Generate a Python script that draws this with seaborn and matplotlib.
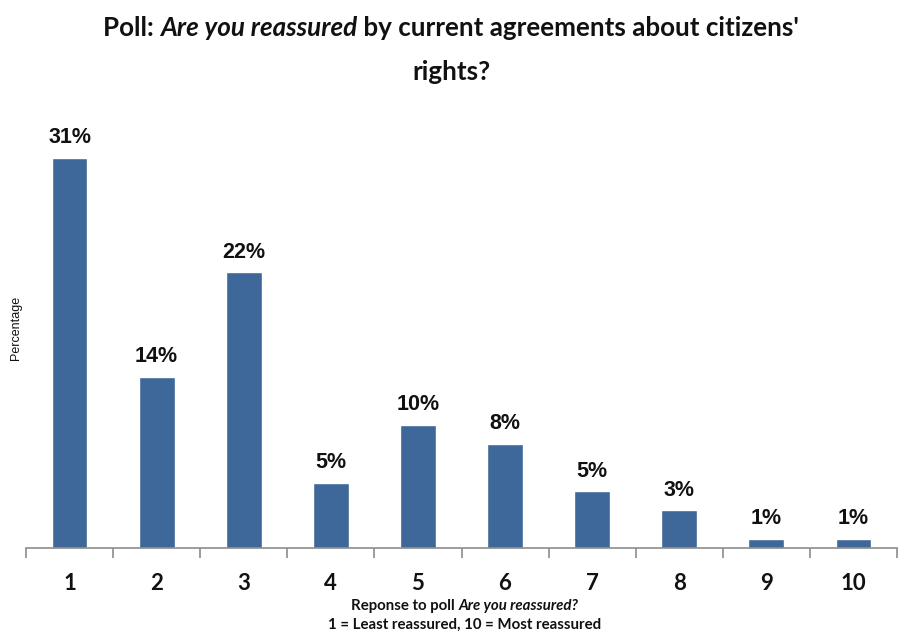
import matplotlib
matplotlib.use("Agg")
import matplotlib.pyplot as plt
import seaborn as sns
import pandas as pd

# poll answers, heights, labels as printed
responses = ["1", "2", "3", "4", "5", "6", "7", "8", "9", "10"]
percent = [31.0, 13.6, 21.9, 5.2, 9.8, 8.3, 4.5, 3.0, 0.7, 0.7]
labels = ["31%", "14%", "22%", "5%", "10%", "8%", "5%", "3%", "1%", "1%"]

df = pd.DataFrame({"Response": responses, "Percentage": percent})

sns.set_style("white")
plt.rcParams['font.family'] = ['Liberation Sans', 'DejaVu Sans']

W, H = 898, 633
fig = plt.figure(figsize=(W / 100, H / 100), dpi=100)
# axes in pixel terms: left 26, right 897, baseline 548, top 120
ax = fig.add_axes([26 / W, (H - 548) / H, (897 - 26) / W, (548 - 120) / H])

sns.barplot(x="Response", y="Percentage", data=df, color="#3D6899",
            width=0.41, saturation=1, ax=ax)
ax.set_xlim(-0.5, 9.5)
ax.set_ylim(0, 31.0 * 428 / 390)

ax.bar_label(ax.containers[0], labels=labels, padding=7,
             fontsize=15.5, fontweight="bold", color="#111111")

for s in ["left", "top", "right"]:
    ax.spines[s].set_visible(False)
ax.spines["bottom"].set_color("#8C8C8C")
ax.spines["bottom"].set_linewidth(1.2)

ax.set_yticks([])
ax.set_xticks(range(10))
ax.set_xticklabels(responses, family="Lato", fontweight="bold", fontsize=16, color="#111111")
ax.tick_params(axis="x", which="major", length=0, pad=18)
ax.set_xticks([i - 0.5 for i in range(11)], minor=True)
ax.tick_params(axis="x", which="minor", bottom=True, length=7, width=1.2,
               color="#8C8C8C", direction="out")
ax.set_xlabel("")
ax.set_ylabel("")

fig.text(16 / W, 1 - 328 / H, "Percentage", rotation=90, ha="center", va="center",
         fontsize=9, color="#111111")

renderer = fig.canvas.get_renderer()


def pieces(x_px, y_px, parts, size):
    # draw a line of text made of several styled pieces, centred on x_px
    objs = []
    for txt, style in parts:
        t = fig.text(0, 1 - y_px / H, txt, family="Lato", fontweight="bold",
                     style=style, fontsize=size, va="center", ha="left", color="#111111")
        objs.append(t)
    widths = [t.get_window_extent(renderer).width for t in objs]
    x = x_px - sum(widths) / 2
    for t, w in zip(objs, widths):
        t.set_x(x / W)
        x += w


pieces(451, 28, [("Poll: ", "normal"), ("Are you reassured", "italic"),
                 (" by current agreements about citizens'", "normal")], 18.7)
pieces(451, 72, [("rights?", "normal")], 18.7)
pieces(465, 606, [("Reponse to poll ", "normal"), ("Are you reassured?", "italic")], 10.8)
pieces(465, 625, [("1 = Least reassured, 10 = Most reassured", "normal")], 10.8)

fig.savefig("out.png", dpi=100)
